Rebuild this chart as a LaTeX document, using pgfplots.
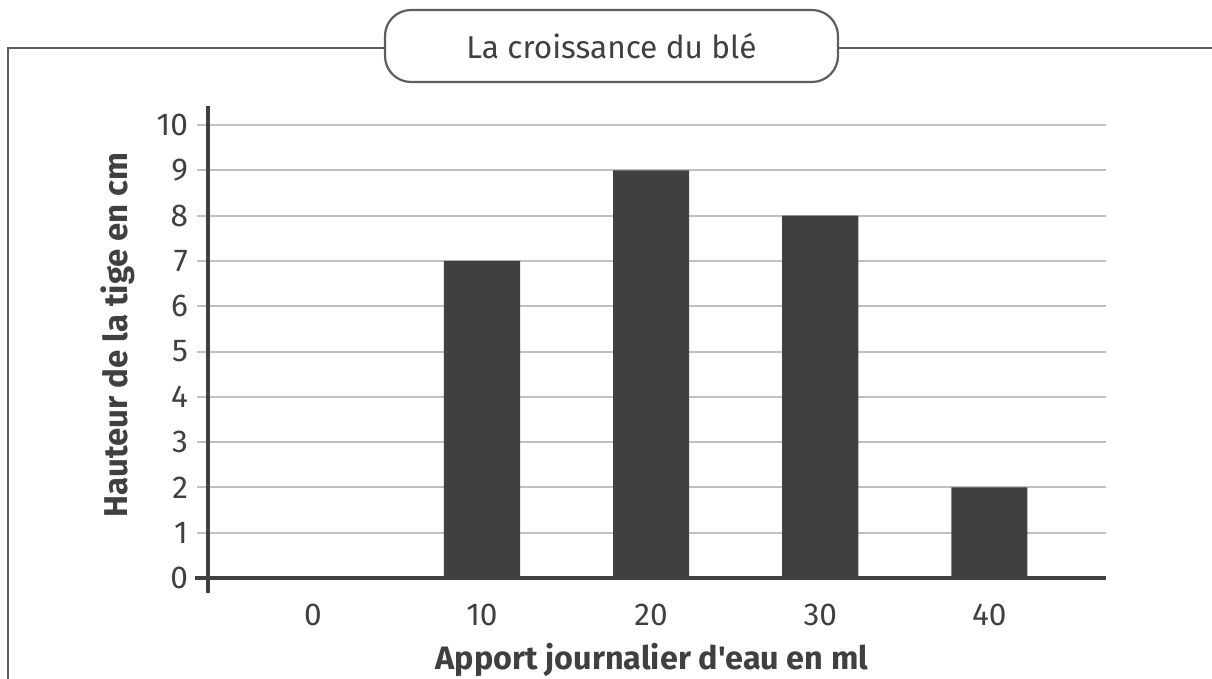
\documentclass[border=0pt]{standalone}
\usepackage{pgfplots}
\pgfplotsset{compat=1.18}
\usepackage{fontspec}
\setmainfont{Fira Sans}[Ligatures=TeXOff]
\definecolor{txt}{HTML}{404040}
\definecolor{bar}{HTML}{404040}
\definecolor{grid}{HTML}{C0C0C0}
\definecolor{frame}{HTML}{5E5E5E}
\begin{document}
\begin{tikzpicture}
\path[use as bounding box] (0,0) rectangle (606pt,339.5pt);
% frame
\draw[frame, line width=1.1pt] (4pt,0) -- (4pt,315.5pt) -- (192.5pt,315.5pt);
\draw[frame, line width=1.1pt] (419pt,315.5pt) -- (606pt,315.5pt);
\draw[frame, line width=1.1pt, rounded corners=13pt, fill=white] (192.5pt,298.5pt) rectangle (419pt,334.5pt);
\node[txt, font=\fontsize{15.8}{18}\selectfont] at (305.75pt,316.5pt) {La croissance du blé};
\begin{axis}[
  at={(104pt,50.5pt)}, anchor=south west,
  scale only axis, width=449pt, height=236pt,
  xmin=-0.62, xmax=4.69, ymin=0, ymax=10.42,
  axis x line=bottom, axis y line=left,
  axis line style={draw=none, -},
  xtick={0,1,2,3,4}, xticklabels={0,10,20,30,40},
  ytick={0,1,...,10},
  xmajorgrids=false, ymajorgrids=true,
  grid style={grid, line width=1pt},
  xtick style={draw=none},
  ytick style={grid, line width=1pt},
  major tick length=5.5pt, tick align=outside,
  /pgf/number format/assume math mode=true,
  tick label style={txt, font=\fontsize{15.8}{18}\selectfont},
  xticklabel style={yshift=-4pt},
  yticklabel style={xshift=-1pt},
]
\addplot[ybar, bar width=0.45, fill=bar, draw=none] coordinates {(0,0) (1,7) (2,9) (3,8) (4,2)};
\end{axis}
% axis lines
\draw[txt, line width=2pt] (104pt,286.5pt) -- (104pt,43pt);
\draw[txt, line width=2.2pt] (97.5pt,50.5pt) -- (553pt,50.5pt);
\node[txt, font=\bfseries\fontsize{16.2}{19}\selectfont] at (326pt,9.5pt) {Apport journalier d'eau en ml};
\node[txt, font=\bfseries\fontsize{16.5}{19}\selectfont, rotate=90] at (59pt,172pt) {Hauteur de la tige en cm};
\end{tikzpicture}
\end{document}
